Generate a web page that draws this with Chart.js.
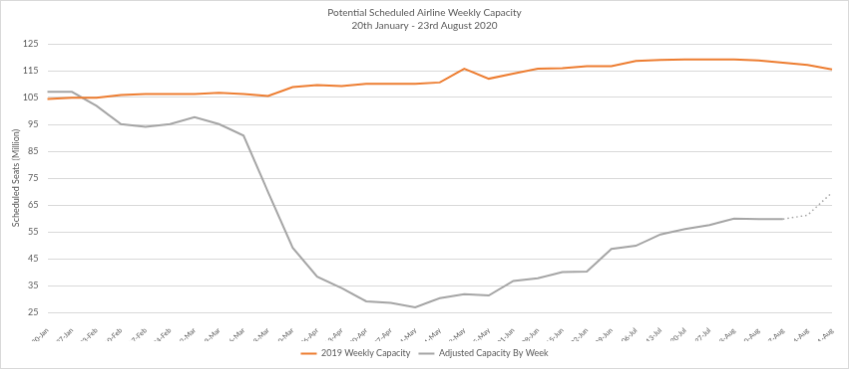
<!DOCTYPE html>
<html>
<head>
<meta charset="utf-8">
<script src="https://cdn.jsdelivr.net/npm/chart.js@4"></script>
<style>
  html, body { margin: 0; padding: 0; background: #fff; }
  #chart { display: block; border: 1px solid #d9d9d9; }
</style>
</head>
<body>
<canvas id="chart" width="849" height="369"></canvas>
<script>
const weekLabels = [
  "20-Jan", "27-Jan", "03-Feb", "10-Feb", "17-Feb", "24-Feb", "02-Mar", "09-Mar",
  "16-Mar", "23-Mar", "30-Mar", "06-Apr", "13-Apr", "20-Apr", "27-Apr", "04-May",
  "11-May", "18-May", "25-May", "01-Jun", "08-Jun", "15-Jun", "22-Jun", "29-Jun",
  "06-Jul", "13-Jul", "20-Jul", "27-Jul", "03-Aug", "10-Aug", "17-Aug", "24-Aug", "31-Aug"
];

// seats in millions
const capacity2019 = [
  104.4, 104.9, 104.9, 105.9, 106.3, 106.3, 106.3, 106.8, 106.3, 105.6, 108.9,
  109.6, 109.3, 110.1, 110.1, 110.1, 110.6, 115.7, 112.0, 113.9, 115.7, 115.9,
  116.7, 116.7, 118.6, 119.0, 119.2, 119.2, 119.2, 118.8, 118.0, 117.1, 115.5
];

const adjustedCapacity = [
  107.1, 107.1, 101.9, 95.1, 94.1, 95.1, 97.7, 95.1, 90.8, 69.8, 49.1,
  38.3, 34.0, 29.1, 28.5, 26.9, 30.3, 31.8, 31.3, 36.7, 37.7, 40.0,
  40.2, 48.6, 49.8, 54.0, 56.0, 57.5, 59.9, 59.7, 59.7, 61.2, 69.6
];

// weeks from this index on are projections (dotted)
const projectedFrom = 30;

const textColor = "#595959";
const fontFamily = "Lato, 'Liberation Sans', sans-serif";

new Chart(document.getElementById("chart"), {
  type: "line",
  data: {
    labels: weekLabels,
    datasets: [
      {
        label: "2019 Weekly Capacity",
        data: capacity2019,
        borderColor: "#ed7d31",
        backgroundColor: "#ed7d31",
        borderWidth: 2,
        pointRadius: 0,
        tension: 0,
      },
      {
        label: "Adjusted Capacity By Week",
        data: adjustedCapacity,
        borderColor: "#a5a5a5",
        backgroundColor: "#a5a5a5",
        borderWidth: 2,
        pointRadius: 0,
        tension: 0,
        segment: {
          borderDash: (ctx) => (ctx.p0DataIndex >= projectedFrom ? [1.5, 3] : undefined),
          borderWidth: (ctx) => (ctx.p0DataIndex >= projectedFrom ? 1.5 : undefined),
        },
      },
    ],
  },
  options: {
    responsive: false,
    animation: false,
    layout: { padding: 0 },
    plugins: {
      tooltip: { enabled: false },
      title: {
        display: true,
        text: ["Potential Scheduled Airline Weekly Capacity", "20th January - 23rd August 2020"],
        color: textColor,
        font: { family: fontFamily, size: 10, weight: "normal", lineHeight: 1.25 },
        padding: { top: 6, bottom: 12 },
      },
      legend: {
        position: "bottom",
        labels: {
          color: textColor,
          font: { family: fontFamily, size: 9 },
          boxWidth: 16,
          boxHeight: 2,
          padding: 8,
          generateLabels: (chart) =>
            chart.data.datasets.map((ds, i) => ({
              text: ds.label,
              fillStyle: ds.borderColor,
              strokeStyle: ds.borderColor,
              lineWidth: 0,
              fontColor: textColor,
              datasetIndex: i,
            })),
        },
      },
    },
    scales: {
      x: {
        offset: false,
        grid: { display: false },
        border: { display: false },
        ticks: {
          color: textColor,
          font: { family: fontFamily, size: 7 },
          autoSkip: false,
          minRotation: 45,
          maxRotation: 45,
          padding: 6,
        },
        afterFit: (scale) => { scale.height = 29; },
      },
      y: {
        min: 25,
        max: 125,
        grid: { color: "#d9d9d9", drawTicks: false, lineWidth: 1 },
        border: { display: false },
        ticks: {
          stepSize: 10,
          color: textColor,
          font: { family: fontFamily, size: 9 },
          padding: 9,
        },
        title: {
          display: true,
          text: "Scheduled Seats (Million)",
          color: textColor,
          font: { family: fontFamily, size: 9 },
          padding: { top: 10, bottom: 0 },
        },
        afterFit: (scale) => { scale.width = 46.5; },
      },
      // empty right-hand margin so the legend and title stay centred on the canvas
      yRight: {
        position: "right",
        grid: { display: false },
        border: { display: false },
        ticks: { display: false },
        afterFit: (scale) => { scale.width = 16; },
      },
    },
  },
});
</script>
</body>
</html>
